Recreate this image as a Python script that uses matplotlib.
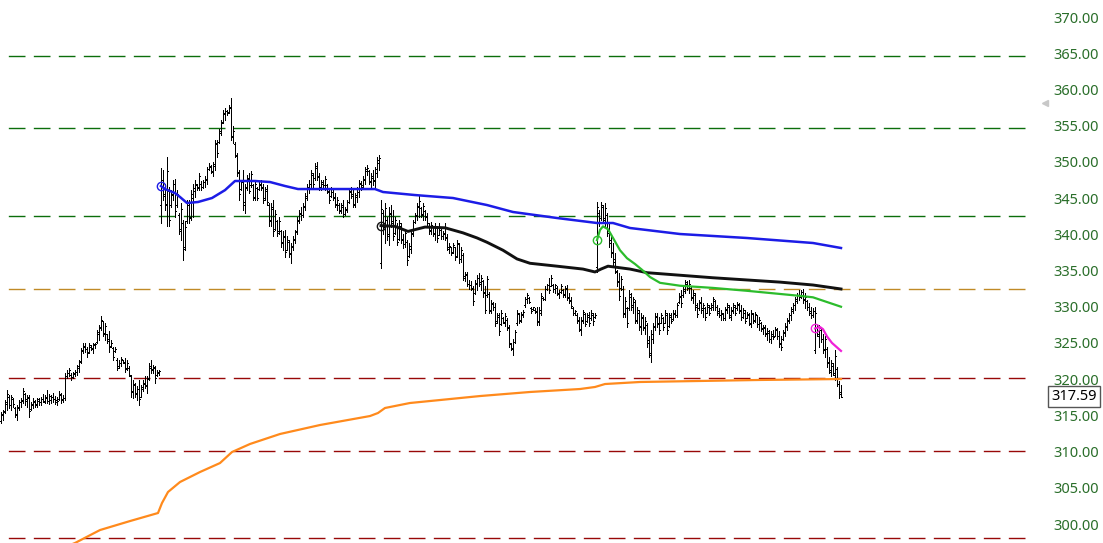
import numpy as np
import matplotlib
matplotlib.use("Agg")
import matplotlib.pyplot as plt
import matplotlib.transforms as mtransforms

plt.rcParams['font.family'] = ['Noto Sans', 'DejaVu Sans']

# OHLC bars, five contracts back to back (80, 110, 108, 109, 14 bars)
opens = [
    # contract 1
    314.2, 315.0, 315.5, 316.6, 317.6, 316.5, 317.2, 316.0, 315.0, 316.0,
    316.8, 317.0, 318.0, 317.2, 317.4, 315.9, 316.5, 316.9, 316.6, 317.0,
    316.9, 317.2, 316.9, 317.4, 317.0, 317.1, 317.5, 317.3, 317.1, 317.3,
    317.8, 317.2, 317.4, 320.4, 320.8, 320.6, 320.3, 320.7, 321.0, 321.6,
    322.5, 323.9, 324.5, 324.1, 323.8, 324.5, 324.2, 324.7, 325.1, 326.3,
    327.2, 328.0, 326.4, 326.2, 325.5, 324.6, 324.3, 323.9, 322.7, 321.8,
    322.2, 322.6, 322.3, 321.5, 321.6, 320.4, 318.4, 319.2, 318.1, 318.6,
    317.6, 318.7, 319.4, 319.2, 320.1, 321.6, 321.4, 321.5, 320.6, 320.9,
    # contract 2
    344.0, 347.2, 345.5, 344.2, 346.0, 344.0, 345.4, 347.0, 344.0, 342.6,
    340.5, 341.5, 338.2, 341.8, 344.0, 342.4, 345.0, 346.0, 346.8, 346.5,
    347.0, 346.6, 347.2, 347.5, 349.0, 349.3, 348.6, 349.5, 352.6, 352.8,
    354.0, 355.5, 356.6, 357.0, 356.9, 357.6, 353.5, 352.5, 350.8, 348.6,
    346.3, 347.5, 344.5, 346.4, 347.6, 346.8, 346.8, 345.0, 346.4, 346.3,
    346.8, 346.6, 345.0, 346.0, 344.0, 342.0, 343.5, 340.8, 341.8, 340.4,
    340.4, 339.0, 339.6, 337.9, 339.0, 337.4, 338.2, 339.2, 340.4, 341.8,
    342.8, 342.7, 343.8, 345.0, 346.4, 347.0, 348.2, 347.8, 349.2, 348.0,
    346.5, 347.0, 346.8, 346.8, 345.8, 345.3, 345.9, 345.2, 344.0, 344.1,
    343.2, 343.8, 342.8, 343.4, 344.5, 345.8, 345.6, 344.0, 345.2, 345.9,
    347.0, 346.8, 347.5, 348.8, 348.7, 347.2, 347.8, 347.5, 348.5, 349.9,
    # contract 3
    336.0, 343.0, 341.0, 342.0, 340.0, 342.8, 341.8, 340.2, 341.2, 339.4,
    341.2, 339.4, 338.6, 339.0, 337.0, 338.0, 340.0, 341.7, 342.5, 343.8,
    343.6, 342.6, 343.2, 342.5, 341.2, 340.5, 341.0, 340.2, 341.0, 339.9,
    340.6, 339.8, 340.2, 339.6, 338.0, 338.2, 337.6, 338.2, 337.0, 338.6,
    336.6, 337.2, 334.0, 334.4, 333.2, 333.0, 332.5, 331.9, 333.2, 334.0,
    333.4, 333.6, 332.0, 331.6, 331.8, 329.4, 330.4, 330.0, 328.0, 328.6,
    327.6, 328.4, 327.8, 328.2, 327.2, 324.8, 324.2, 325.2, 327.8, 329.0,
    328.1, 328.8, 330.2, 331.0, 331.2, 329.8, 329.7, 329.6, 329.4, 328.0,
    329.2, 331.2, 331.0, 332.5, 333.0, 332.9, 333.0, 332.4, 332.6, 331.8,
    332.0, 332.3, 331.6, 332.6, 331.3, 330.9, 329.8, 329.2, 328.9, 328.2,
    326.8, 328.0, 329.0, 328.0, 328.6, 328.4, 328.8, 328.6,
    # contract 4
    335.5, 343.0, 342.2, 343.8, 342.2, 342.6, 340.4, 339.2, 337.6, 336.6,
    334.8, 333.6, 332.6, 332.4, 329.0, 329.8, 329.8, 331.4, 330.2, 330.6,
    328.0, 329.2, 327.4, 328.4, 327.0, 327.5, 325.4, 323.4, 325.6, 327.2,
    328.6, 327.8, 327.8, 328.4, 327.8, 328.8, 327.4, 328.6, 328.3, 329.0,
    328.8, 330.6, 331.4, 331.6, 332.2, 333.2, 332.8, 332.6, 331.2, 331.6,
    330.2, 329.8, 330.5, 329.8, 329.8, 329.2, 330.0, 329.8, 330.0, 330.8,
    330.0, 329.4, 328.8, 329.0, 328.4, 329.6, 330.0, 328.6, 329.4, 330.0,
    329.8, 330.3, 329.6, 328.6, 329.2, 328.5, 328.8, 327.6, 329.0, 328.2,
    328.8, 327.6, 327.8, 327.0, 327.0, 326.4, 326.4, 325.6, 326.0, 326.0,
    326.8, 326.0, 325.0, 325.5, 326.4, 327.2, 328.0, 328.8, 329.4, 330.2,
    330.8, 331.6, 331.4, 332.0, 331.0, 330.8, 330.0, 329.4, 328.8,
    # contract 5
    324.0, 327.2, 326.0, 326.8, 325.6, 324.2, 324.2, 322.4, 321.0, 321.8,
    320.6, 321.4, 319.4, 318.2,
]
highs = [
    315.5, 315.8, 317.1, 318.5, 317.8, 317.8, 317.4, 316.2, 316.5, 317.1,
    317.4, 318.8, 318.1, 317.8, 317.8, 316.9, 317.4, 317.1, 317.4, 317.4,
    317.6, 317.9, 317.8, 318.5, 318.0, 317.8, 318.1, 317.7, 317.6, 318.3,
    318.1, 317.8, 320.8, 321.3, 321.5, 320.8, 321.0, 321.3, 322.0, 322.7,
    324.3, 325.0, 325.0, 324.5, 325.0, 324.7, 325.0, 325.0, 326.8, 327.5,
    328.7, 328.0, 327.7, 326.3, 326.6, 325.4, 324.5, 324.5, 322.9, 322.7,
    323.1, 322.7, 322.9, 322.7, 321.8, 320.6, 319.9, 319.5, 319.0, 319.9,
    319.2, 319.9, 320.4, 320.4, 322.2, 322.7, 322.0, 321.8, 321.3, 321.3,
    349.1, 348.9, 347.0, 350.7, 346.6, 346.1, 347.5, 347.7, 346.1, 342.9,
    344.3, 342.0, 341.8, 344.7, 344.7, 346.1, 347.0, 347.5, 347.0, 348.4,
    347.3, 347.5, 348.0, 349.3, 349.8, 349.6, 350.0, 353.0, 353.0, 354.6,
    355.8, 357.2, 357.4, 357.2, 357.8, 358.8, 354.9, 352.8, 351.2, 348.9,
    347.5, 348.9, 347.0, 348.2, 348.4, 348.7, 347.0, 347.5, 346.6, 347.3,
    347.5, 347.0, 346.6, 346.8, 344.3, 344.3, 344.7, 343.4, 342.0, 342.4,
    340.6, 340.4, 340.6, 339.7, 339.2, 338.8, 339.7, 340.6, 342.4, 343.4,
    343.8, 344.3, 345.7, 347.0, 347.5, 348.9, 348.4, 349.8, 350.0, 348.4,
    347.5, 347.5, 348.0, 347.0, 346.1, 346.6, 346.1, 345.7, 345.2, 344.3,
    344.3, 344.7, 343.8, 344.7, 346.4, 346.6, 346.4, 345.7, 346.6, 347.5,
    347.3, 348.0, 349.3, 349.6, 348.9, 348.4, 348.9, 349.3, 350.7, 351.0,
    344.7, 343.4, 344.3, 342.4, 343.8, 344.0, 343.4, 342.4, 341.5, 342.0,
    341.5, 340.1, 340.6, 339.2, 338.8, 340.6, 342.0, 342.9, 344.3, 345.4,
    343.8, 344.3, 343.4, 342.9, 341.5, 341.7, 341.1, 341.5, 341.1, 341.5,
    340.8, 340.4, 341.5, 340.1, 338.8, 338.3, 338.8, 338.3, 339.2, 338.8,
    338.3, 337.4, 334.8, 334.8, 333.7, 333.5, 332.8, 333.7, 334.4, 334.6,
    334.4, 333.7, 332.8, 334.2, 332.1, 330.9, 330.7, 330.5, 329.1, 329.1,
    329.6, 328.6, 329.1, 328.4, 327.5, 325.0, 325.6, 326.8, 329.6, 329.1,
    329.3, 329.6, 331.4, 331.9, 331.4, 330.0, 330.0, 329.8, 330.0, 330.0,
    331.9, 331.4, 332.8, 333.2, 333.9, 334.4, 333.2, 333.2, 332.8, 332.3,
    333.2, 332.5, 332.8, 333.0, 331.9, 331.4, 330.0, 329.6, 329.1, 328.6,
    328.6, 329.6, 329.1, 329.1, 329.3, 329.6, 329.1, 329.1,
    344.5, 343.4, 344.5, 344.0, 344.3, 342.9, 341.5, 339.7, 338.8, 337.4,
    335.1, 334.6, 334.2, 332.8, 331.4, 330.0, 332.3, 331.9, 331.4, 330.9,
    330.0, 329.5, 329.1, 328.9, 328.6, 327.7, 325.9, 326.8, 327.7, 329.1,
    329.1, 328.6, 329.1, 328.6, 329.5, 329.1, 329.1, 329.1, 329.5, 329.5,
    330.5, 331.9, 332.3, 332.8, 333.7, 333.5, 333.7, 332.8, 332.3, 331.9,
    330.5, 330.9, 331.4, 330.5, 330.0, 330.5, 330.2, 330.5, 331.4, 330.9,
    330.2, 329.8, 329.5, 329.1, 330.0, 330.5, 330.2, 330.0, 330.5, 330.2,
    330.7, 330.5, 330.2, 329.8, 329.5, 329.3, 329.1, 329.5, 329.1, 329.3,
    328.9, 328.6, 327.9, 327.5, 327.5, 327.0, 326.8, 326.6, 326.8, 327.2,
    327.0, 326.6, 325.9, 326.8, 327.7, 328.4, 329.1, 330.0, 330.5, 331.4,
    331.9, 332.3, 332.3, 332.5, 331.9, 330.9, 330.5, 330.0, 329.8,
    330.0, 327.5, 327.5, 327.0, 326.3, 325.9, 324.5, 323.1, 322.6, 322.2,
    324.0, 321.7, 319.7, 319.2,
]
lows = [
    313.9, 314.4, 315.3, 315.8, 316.0, 315.8, 316.2, 314.8, 314.4, 315.8,
    316.2, 316.7, 316.5, 316.2, 314.8, 315.8, 316.0, 316.2, 316.2, 316.5,
    316.4, 316.8, 316.7, 316.7, 316.6, 316.7, 316.9, 316.6, 316.5, 317.1,
    316.7, 316.9, 317.1, 320.1, 320.4, 319.9, 320.1, 320.4, 320.6, 321.0,
    322.2, 323.6, 323.8, 323.1, 323.6, 324.0, 323.6, 324.3, 325.0, 325.4,
    326.8, 325.9, 325.4, 325.0, 323.8, 324.5, 322.7, 323.8, 321.3, 321.5,
    321.8, 322.2, 321.0, 321.3, 320.4, 317.6, 317.4, 317.6, 317.1, 316.5,
    317.6, 318.3, 318.8, 318.1, 319.9, 320.8, 320.8, 319.5, 320.4, 320.6,
    341.5, 344.7, 343.4, 341.1, 341.1, 343.8, 344.7, 342.4, 343.8, 340.1,
    339.2, 336.5, 337.8, 341.5, 341.5, 342.0, 342.4, 345.2, 346.1, 346.1,
    346.1, 346.4, 346.6, 347.0, 348.9, 348.4, 348.0, 348.9, 350.7, 352.6,
    353.7, 355.3, 355.8, 356.5, 356.7, 353.0, 352.6, 350.7, 348.0, 344.7,
    346.1, 343.4, 342.9, 346.1, 345.7, 346.6, 344.7, 344.7, 344.7, 346.1,
    346.1, 344.3, 344.7, 344.0, 341.1, 341.1, 339.7, 340.6, 339.7, 340.1,
    338.3, 337.8, 336.9, 337.8, 336.9, 336.0, 337.8, 338.8, 340.1, 341.5,
    342.0, 342.4, 343.4, 344.7, 345.7, 346.6, 346.6, 347.5, 347.5, 346.1,
    346.1, 346.6, 346.1, 345.7, 344.3, 345.2, 344.7, 343.8, 343.4, 342.9,
    342.9, 342.4, 342.7, 343.1, 344.3, 345.0, 343.8, 343.8, 344.5, 345.2,
    346.1, 346.6, 347.0, 348.2, 347.0, 346.6, 346.8, 346.6, 347.9, 348.9,
    335.3, 340.1, 338.8, 339.2, 338.5, 341.0, 339.2, 340.1, 338.5, 339.2,
    338.8, 338.1, 338.3, 335.8, 336.9, 337.4, 339.7, 341.5, 342.0, 342.4,
    342.4, 342.0, 342.0, 341.1, 340.1, 340.1, 339.7, 339.2, 339.0, 339.9,
    339.4, 339.4, 339.2, 337.8, 337.4, 337.1, 337.4, 336.5, 336.9, 336.0,
    336.2, 333.7, 333.5, 332.8, 332.5, 332.3, 330.2, 331.8, 332.3, 332.8,
    332.3, 331.4, 329.1, 331.4, 329.1, 329.1, 329.6, 327.3, 327.7, 326.1,
    327.5, 327.7, 327.3, 326.8, 324.5, 324.0, 323.3, 325.0, 327.5, 327.7,
    327.9, 328.6, 330.0, 330.5, 330.5, 329.1, 329.6, 329.1, 327.5, 327.5,
    328.9, 330.9, 330.9, 332.3, 331.9, 332.8, 332.1, 331.9, 331.6, 331.2,
    331.9, 331.4, 331.4, 330.9, 330.5, 329.8, 328.9, 328.9, 327.7, 326.6,
    326.1, 327.7, 327.3, 327.9, 327.3, 328.2, 327.5, 328.4,
    334.8, 341.1, 342.0, 341.5, 341.1, 339.7, 338.3, 336.9, 335.5, 334.6,
    332.8, 330.9, 332.3, 328.6, 328.6, 327.2, 329.6, 329.6, 329.1, 327.7,
    327.7, 326.8, 326.3, 326.8, 326.3, 324.5, 323.1, 322.4, 325.0, 326.8,
    327.2, 326.3, 327.7, 326.8, 327.7, 326.3, 327.2, 327.7, 328.2, 328.6,
    328.6, 330.5, 330.0, 331.4, 331.9, 332.3, 331.9, 330.9, 330.5, 329.6,
    328.6, 329.6, 329.1, 328.6, 328.2, 329.1, 328.9, 329.6, 329.6, 329.6,
    328.9, 328.6, 328.2, 328.2, 328.2, 329.1, 328.4, 328.2, 329.1, 328.9,
    329.6, 329.1, 328.2, 328.4, 327.7, 328.4, 327.5, 327.2, 327.7, 327.9,
    327.2, 326.8, 326.6, 326.3, 325.9, 325.4, 325.2, 325.0, 325.6, 325.9,
    325.6, 324.5, 324.0, 325.4, 325.9, 326.8, 327.7, 328.2, 329.1, 329.6,
    330.5, 330.9, 331.2, 330.5, 329.8, 329.6, 328.9, 328.4, 328.6,
    323.6, 325.9, 324.5, 325.2, 323.6, 323.1, 321.7, 320.8, 320.4, 320.6,
    319.9, 319.0, 317.4, 317.6,
]
closes = [
    315.2, 315.6, 316.8, 318.0, 316.4, 317.5, 316.6, 315.2, 316.1, 316.9,
    317.1, 318.3, 317.0, 317.5, 315.6, 316.6, 317.0, 316.5, 317.2, 316.9,
    317.3, 317.0, 317.5, 317.0, 317.7, 317.6, 317.2, 316.9, 317.0, 318.0,
    317.1, 317.4, 320.5, 320.9, 321.2, 320.3, 320.8, 321.0, 321.8, 322.4,
    324.0, 324.6, 324.2, 323.6, 324.7, 324.3, 324.8, 324.8, 326.5, 327.1,
    328.2, 326.3, 327.4, 325.3, 324.4, 325.0, 323.0, 324.2, 321.6, 322.3,
    322.8, 322.4, 321.4, 322.2, 320.6, 318.2, 319.4, 318.0, 318.7, 317.2,
    318.9, 319.5, 319.1, 320.0, 321.8, 321.2, 321.7, 320.2, 321.0, 321.1,
    347.5, 345.3, 344.0, 348.8, 342.0, 345.6, 346.9, 343.2, 345.5, 340.8,
    343.5, 338.0, 341.0, 344.1, 342.2, 345.5, 346.4, 346.9, 346.4, 348.0,
    346.6, 347.2, 347.7, 349.0, 349.4, 348.8, 349.7, 352.5, 351.2, 354.2,
    355.4, 356.8, 357.0, 356.7, 357.5, 353.6, 354.2, 351.0, 348.5, 345.5,
    347.2, 344.0, 346.5, 347.8, 346.0, 348.3, 345.2, 347.0, 345.0, 347.0,
    346.4, 344.8, 346.2, 344.5, 341.8, 343.8, 340.5, 342.8, 340.2, 341.8,
    338.8, 339.8, 337.5, 339.2, 337.3, 338.4, 339.3, 340.3, 342.0, 343.0,
    342.6, 343.9, 345.3, 346.6, 347.0, 348.5, 347.0, 349.4, 347.9, 346.6,
    347.2, 346.8, 347.6, 346.0, 344.8, 346.2, 345.0, 344.2, 344.8, 343.3,
    344.0, 342.8, 343.5, 344.4, 346.0, 345.3, 344.2, 345.4, 346.2, 347.1,
    346.5, 347.7, 349.0, 349.2, 347.4, 348.0, 347.3, 349.0, 350.2, 350.5,
    343.5, 340.8, 343.6, 339.8, 343.0, 341.6, 339.8, 342.0, 339.0, 341.5,
    339.2, 338.6, 340.2, 336.4, 338.4, 340.2, 341.7, 342.6, 343.9, 344.6,
    342.8, 343.9, 342.4, 341.5, 340.6, 341.3, 340.0, 341.1, 339.5, 341.0,
    339.8, 340.1, 339.5, 338.2, 338.4, 337.4, 338.5, 336.9, 338.8, 336.6,
    337.9, 334.2, 334.5, 333.2, 333.0, 332.6, 330.8, 333.3, 334.0, 333.2,
    334.0, 331.9, 329.6, 333.8, 329.6, 330.5, 329.9, 327.8, 328.8, 326.6,
    329.2, 327.9, 328.7, 327.0, 325.0, 324.3, 325.2, 326.5, 329.2, 328.0,
    329.0, 329.3, 331.0, 331.6, 330.7, 329.4, 329.9, 329.3, 327.9, 329.6,
    331.5, 331.0, 332.5, 333.0, 332.3, 334.0, 332.4, 333.0, 331.9, 332.1,
    332.9, 331.7, 332.5, 331.2, 330.8, 330.1, 329.2, 329.4, 328.0, 326.9,
    328.2, 329.3, 327.6, 328.8, 327.8, 329.2, 328.0, 328.9,
    343.8, 341.6, 344.0, 342.0, 343.6, 340.2, 338.8, 337.4, 336.2, 335.0,
    333.4, 331.5, 333.8, 329.2, 330.8, 327.8, 331.8, 330.0, 331.0, 328.2,
    329.6, 327.2, 328.6, 327.2, 328.0, 325.0, 323.6, 326.2, 327.3, 328.7,
    327.6, 326.8, 328.8, 327.2, 329.2, 326.8, 328.8, 328.0, 329.2, 328.8,
    330.2, 331.5, 330.5, 332.5, 333.4, 332.6, 333.2, 331.3, 331.9, 330.0,
    329.0, 330.6, 329.6, 330.2, 328.6, 330.2, 329.2, 330.2, 331.0, 329.9,
    329.2, 328.8, 329.2, 328.4, 329.7, 330.2, 328.8, 329.6, 330.2, 329.2,
    330.4, 329.4, 328.6, 329.5, 328.0, 329.0, 327.8, 329.2, 328.0, 329.0,
    327.6, 328.2, 326.9, 327.2, 326.2, 326.6, 325.5, 326.2, 325.8, 326.9,
    325.9, 324.9, 324.4, 326.5, 327.4, 328.1, 328.8, 329.7, 330.2, 331.0,
    331.6, 331.4, 332.0, 330.9, 331.4, 329.9, 329.2, 328.8, 329.4,
    329.2, 326.2, 327.1, 325.5, 324.0, 325.5, 322.2, 321.2, 322.2, 320.9,
    323.2, 319.4, 318.0, 317.59,
]

# horizontal levels
green_levels = [364.62, 354.67, 342.53]
gold_levels = [332.45]
red_levels = [320.16, 310.08, 298.07]

# anchored averages (bar index, price)
blue_x = [80, 82, 87, 89.5, 93, 98.5, 105.5, 112, 117, 127, 134.5, 142, 148.5, 165.5,
          187, 191, 207, 226, 243, 256, 278, 298, 306, 314.5, 323, 339.5, 373, 406, 420]
blue_y = [346.67, 346.25, 345.70, 345.15, 344.32, 344.46, 345.01, 346.10, 347.36, 347.36,
          347.22, 346.67, 346.25, 346.25, 346.25, 345.84, 345.42, 345.01, 344.04, 343.08,
          342.25, 341.56, 341.56, 340.87, 340.59, 340.04, 339.49, 338.80, 338.11]
black_x = [190, 197, 203.5, 212, 222, 231, 238, 243, 251, 258, 264.5, 278, 291, 297,
           300, 303.5, 314.5, 323, 356, 389.5, 406, 420]
black_y = [341.2, 341.1, 340.4, 341.0, 340.9, 340.2, 339.5, 338.9, 337.8, 336.6, 336.0,
           335.6, 335.2, 334.8, 335.2, 335.6, 335.2, 334.7, 334.0, 333.4, 333.0, 332.45]
green_x = [298, 299.5, 301, 303.5, 306, 309.5, 313, 317, 320.5, 324.5, 329.5, 339.5,
           356, 373, 399.5, 406, 413, 420]
green_y = [339.2, 340.6, 341.1, 340.7, 339.5, 337.8, 336.7, 335.9, 335.1, 334.1, 333.3,
           332.9, 332.6, 332.2, 331.5, 331.3, 330.65, 330.0]
magenta_x = [407, 409.5, 411, 413, 415.5, 420]
magenta_y = [327.0, 327.2, 326.9, 325.9, 325.0, 323.9]
orange_x = [30, 37, 49.5, 64.5, 78.5, 80.5, 83.5, 89.5, 99.5, 109.5, 115.5, 124.5, 139.5,
            159.5, 184.5, 188.5, 192, 204.5, 219.5, 239.5, 264.5, 289.5, 297, 302, 319.5,
            349.5, 379.5, 420]
orange_y = [296.6, 297.38, 299.17, 300.41, 301.52, 302.9, 304.42, 305.80, 307.18, 308.42,
            309.94, 311.05, 312.43, 313.67, 314.91, 315.33, 316.02, 316.71, 317.12, 317.67,
            318.23, 318.64, 318.92, 319.33, 319.61, 319.75, 319.89, 320.02]

last_price = 317.59
marker_price = 358.13
yticks = list(range(300, 371, 5))

fig = plt.figure(figsize=(11.03, 5.43), dpi=100)
ax = fig.add_axes([0, 0, 1028 / 1103, 1])

# dashed levels
for lv in green_levels:
    ax.axhline(lv, color='#0b6e0b', lw=1.0, ls=(12, (12, 6)), zorder=1)
for lv in gold_levels:
    ax.axhline(lv, color='#c08a26', lw=1.0, ls=(12, (12, 6)), zorder=1)
for lv in red_levels:
    ax.axhline(lv, color='#980808', lw=1.0, ls=(12, (12, 6)), zorder=1)

# OHLC bars, thin 1px strokes
x = np.arange(len(closes))
ax.vlines(x, lows, highs, color='black', lw=0.7, antialiased=False, zorder=3)
ax.hlines(opens, x - 0.65, x, color='black', lw=0.7, antialiased=False, zorder=3)
ax.hlines(closes, x, x + 0.65, color='black', lw=0.7, antialiased=False, zorder=3)

# averages
ax.plot(orange_x, orange_y, color='#ff8a1c', lw=1.6, zorder=4)
for lx, ly, col, w in [(blue_x, blue_y, '#1c1ce6', 1.8),
                       (black_x, black_y, '#111111', 2.1),
                       (green_x, green_y, '#2cbc2c', 1.6),
                       (magenta_x, magenta_y, '#f020d8', 1.6)]:
    ax.plot(lx, ly, color=col, lw=w, zorder=4)
    ax.plot(lx[0], ly[0], 'o', mfc='none', mec=col, ms=6, mew=1.0, zorder=5)

ax.set_xlim(-0.5, 513.5)
ax.set_ylim(297.38, 372.35)

ax.yaxis.tick_right()
ax.set_yticks(yticks)
ax.set_yticklabels([f"{v:.2f}" for v in yticks])
ax.tick_params(axis='y', length=0, pad=18, labelsize=10.5, labelcolor='#2a6e2a')
ax.set_xticks([])
for s in ax.spines.values():
    s.set_visible(False)

trans = mtransforms.blended_transform_factory(ax.transAxes, ax.transData)
ax.text(1048 / 1028 + 0.003, last_price, f"{last_price:.2f}", transform=trans,
        ha='left', va='center', fontsize=10.5, color='black',
        bbox=dict(boxstyle='square,pad=0.2', fc='white', ec='#555555', lw=1))
ax.plot([1045 / 1028], [marker_price], marker='<', color='#c8c8c8', ms=5,
        transform=trans, clip_on=False)

fig.savefig('out.png', dpi=100)
